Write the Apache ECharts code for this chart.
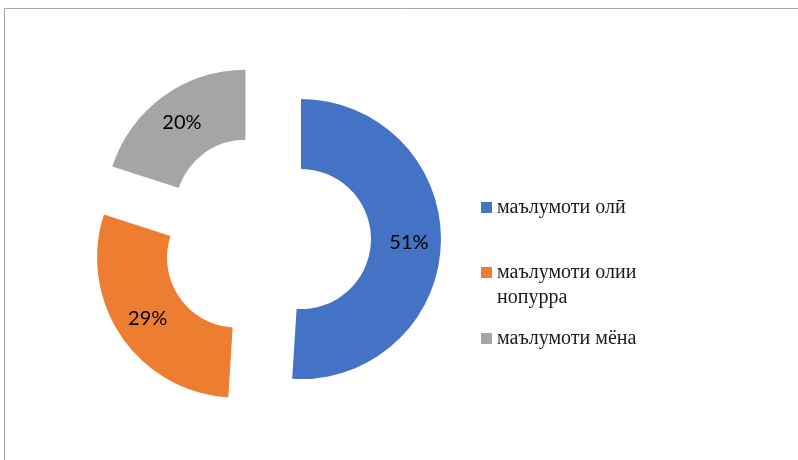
<!DOCTYPE html>
<html><head><meta charset="utf-8">
<style>html,body{margin:0;padding:0;background:#fff}#c{width:798px;height:460px}</style>
<script src="https://cdn.jsdelivr.net/npm/echarts@6/dist/echarts.min.js"></script>
</head><body><div id="c"></div>
<script>
const categories = ['маълумоти олӣ', 'маълумоти олии нопурра', 'маълумоти мёна'];
const values = [51, 29, 20];
const colors = ['#4472C4', '#ED7D31', '#A5A5A5'];

const chart = echarts.init(document.getElementById('c'));
const legendTops = [195, 235, 326];
const legendText = {
  'маълумоти олӣ': 'маълумоти олӣ',
  'маълумоти олии нопурра': ' \nмаълумоти олии\nнопурра',
  'маълумоти мёна': 'маълумоти мёна'
};
chart.setOption({
  animation: false,
  graphic: [{
    type: 'rect', shape: {x: 4.5, y: 8.5, width: 900, height: 600},
    style: {fill: 'none', stroke: '#a6a6a6', lineWidth: 1}, silent: true
  }],
  legend: categories.map((n, i) => ({
    data: [n], orient: 'vertical', left: 481, top: legendTops[i], padding: 0,
    itemWidth: 11, itemHeight: 11, itemGap: 5, icon: 'rect', selectedMode: false,
    formatter: name => legendText[name],
    textStyle: {fontFamily: 'Liberation Serif', fontSize: 20, color: '#1a1a1a', lineHeight: 25}
  })),
  series: [{
    type: 'pie',
    center: [266, 238],
    radius: [70, 140],
    startAngle: 90,
    clockwise: true,
    selectedMode: 'multiple',
    selectedOffset: 35,
    avoidLabelOverlap: false,
    label: {
      show: true, position: 'inside', formatter: '{d}%',
      fontFamily: 'Lato', fontSize: 20, color: '#000'
    },
    labelLine: {show: false},
    emphasis: {disabled: true},
    itemStyle: {borderWidth: 0},
    data: categories.map((n, i) => ({
      name: n, value: values[i], selected: true, itemStyle: {color: colors[i]}
    }))
  }]
});
</script></body></html>
